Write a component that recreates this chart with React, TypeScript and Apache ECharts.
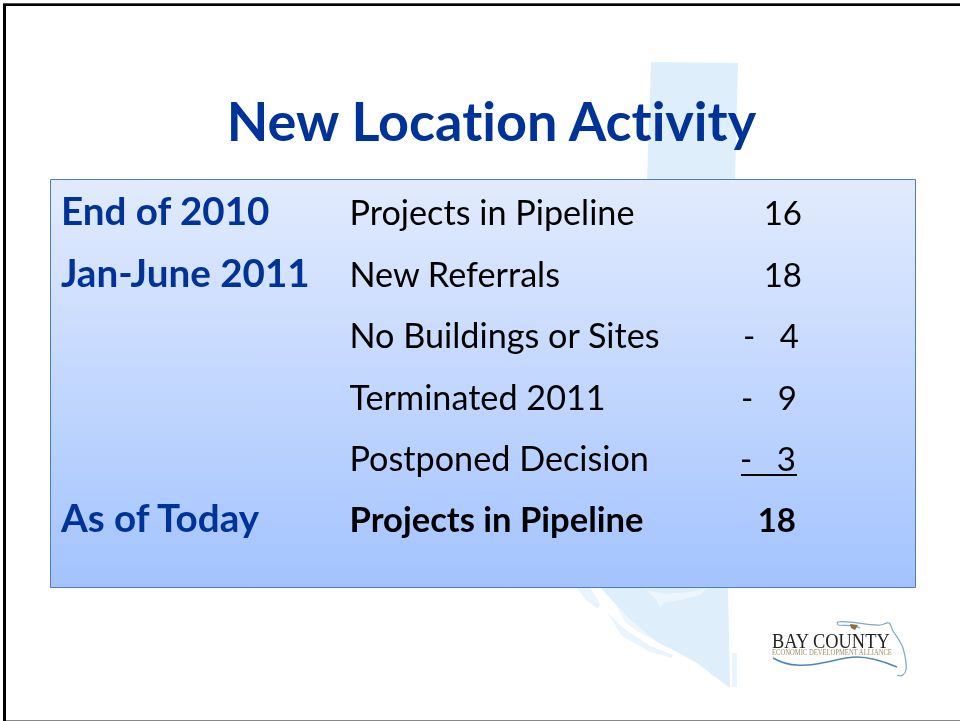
import React, { useEffect, useRef } from "react";
import * as echarts from "echarts";

const titleText = "New Location Activity";
const periods = ["End of 2010", "Jan-June 2011", "", "", "", "As of Today"];
const items = ["Projects in Pipeline", "New Referrals", "No Buildings or Sites", "Terminated 2011", "Postponed Decision", "Projects in Pipeline"];
const signs = ["", "", "-", "-", "-", ""];
const values = ["16", "18", "4", "9", "3", "18"];
const logoName = "BAY COUNTY";
const logoSub = "ECONOMIC DEVELOPMENT ALLIANCE";

const FONT = "Lato, 'Open Sans', sans-serif";
const BLUE = "#003399";
const periodY = [209.5, 271.5, 0, 0, 0, 516.5];
const rowY = [211, 273, 334, 396, 457, 518];
const valueRight = [802, 802, 799, 797, 796, 796];
const signX = [0, 0, 749, 747, 746, 0];

const mapD = "M651 62 L738 63 L735 180 L735 587 L728 587 L730 688 L697 663 L677 652 L657 642 L630 620 L600 587 L645 587 L647 180 Z";
const islandD = "M576 587 L590 587 L600 604 L598 609 L586 600 Z M607 612 L623 628 L650 646 L673 655 L672 658 L650 652 L622 636 Z M732 653 L737 653 L737 687 L732 687 Z";
const lagoonD = "M646 590 L665 594 L690 592 L707 588 L700 595 L680 600 L665 602 L660 608 L657 600 Z M615 604 L628 618 L640 628 L655 640 L640 633 L625 622 Z";
const floridaD = "M837 622 C850 620 868 626 880 625 C884 625 886 622 889 623 C892 625 891 628 893 631 C897 637 901 642 903 648 C905 655 907 664 906 670 C905 675 901 677 897 675 M837 622 L838 625 C846 626 852 624 860 628";
const waveD = "M773 658 C782 663 790 665 797 665 C810 666 818 664 827 662 C840 659 848 657 857 657 C868 657 885 662 897 667";
const blotD = "M850 624 L858 625 L855 630 L851 628 Z";

echarts.graphic.registerShape("bgmap", echarts.graphic.extendPath(mapD, {}));
echarts.graphic.registerShape("bgisland", echarts.graphic.extendPath(islandD, {}));
echarts.graphic.registerShape("bglagoon", echarts.graphic.extendPath(lagoonD, {}));
echarts.graphic.registerShape("flLine", echarts.graphic.extendPath(floridaD, {}));
echarts.graphic.registerShape("waveLine", echarts.graphic.extendPath(waveD, {}));
echarts.graphic.registerShape("blot", echarts.graphic.extendPath(blotD, {}));

function txt(text: string, x: number, y: number, size: number, fill: string, weight: string | number = "normal", align = "left") {
  return { type: "text", x, y, z: 10, style: { text, fontFamily: FONT, fontSize: size, fontWeight: weight, fill, align, verticalAlign: "middle" } };
}

export default function App() {
  const ref = useRef<HTMLDivElement>(null);
  useEffect(() => {
    document.body.style.margin = "0";
    const chart = echarts.init(ref.current!, undefined, { renderer: "svg" });
    const elements: any[] = [
      { type: "rect", z: 0, shape: { x: 0, y: 0, width: 960, height: 721 }, style: { fill: "#ffffff" } },
      { type: "rect", z: 1, shape: { x: 3, y: 3, width: 3, height: 718 }, style: { fill: "#000" } },
      { type: "rect", z: 1, shape: { x: 3, y: 3, width: 957, height: 1 }, style: { fill: "#555" } },
      { type: "rect", z: 1, shape: { x: 3, y: 4, width: 957, height: 2 }, style: { fill: "#000" } },
      { type: "rect", z: 1, shape: { x: 6, y: 720, width: 954, height: 1 }, style: { fill: "#888" } },
      { type: "bgmap", z: 2, x: 0, y: 0, style: { fill: "#DEEEFB", stroke: "none" } },
      { type: "bgisland", z: 2, x: 0, y: 0, style: { fill: "#EAF4FC", stroke: "none" } },
      { type: "bglagoon", z: 2, x: 0, y: 0, style: { fill: "#EDF6FD", stroke: "none" } },
      {
        type: "rect", z: 3,
        shape: { x: 50.5, y: 179.5, width: 865, height: 408 },
        style: {
          fill: new echarts.graphic.LinearGradient(0, 0, 0, 1, [
            { offset: 0, color: "#E2EBFD" },
            { offset: 1, color: "#A3C3FF" },
          ]),
          stroke: "#4F7DB8", lineWidth: 1,
        },
      },
      txt(titleText, 491.5, 120, 54, BLUE, "bold", "center"),
      { type: "rect", z: 10, shape: { x: 741, y: 474, width: 56, height: 2 }, style: { fill: "#000" } },
      { type: "flLine", z: 6, x: 0, y: 0, style: { fill: "none", stroke: "#7FA6CC", lineWidth: 1.2 } },
      { type: "waveLine", z: 6, x: 0, y: 0, style: { fill: "none", stroke: "#4E86B8", lineWidth: 1.5 } },
      { type: "blot", z: 6, x: 0, y: 0, style: { fill: "#8B6F3A", stroke: "none" } },
      { type: "text", z: 7, x: 772, y: 641, scaleX: 0.92, style: { text: logoName, fontFamily: "'Liberation Serif', serif", fontSize: 20, fill: "#222", verticalAlign: "middle" } },
      { type: "text", z: 7, x: 772, y: 652.5, scaleX: 0.77, style: { text: logoSub, fontFamily: "'Liberation Serif', serif", fontSize: 8.6, fill: "#A08C60", verticalAlign: "middle" } },
    ];
    periods.forEach((p, i) => {
      if (p) elements.push(txt(p, 61, periodY[i], 38.6, BLUE, "bold"));
    });
    items.forEach((t, i) => {
      elements.push(txt(t, 349.5, rowY[i], i === 5 ? 34.6 : 34.2, "#000", i === 5 ? "bold" : "normal"));
      elements.push(txt(values[i], valueRight[i], rowY[i] + 0.5, 33, "#000", i === 5 ? "bold" : "normal", "right"));
      if (signs[i]) elements.push(txt(signs[i], signX[i], rowY[i] + 0.5, 33, "#000", "normal", "center"));
    });
    chart.setOption({ animation: false, graphic: { elements } });
    return () => chart.dispose();
  }, []);
  return <div ref={ref} style={{ position: "fixed", left: 0, top: 0, width: 960, height: 721, fontVariantLigatures: "none" }} />;
}
